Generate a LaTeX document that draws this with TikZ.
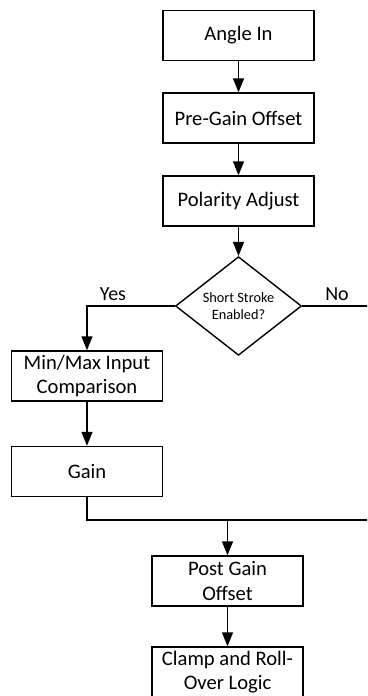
\documentclass[tikz,border=0pt]{standalone}
\usepackage{fontspec}
\setmainfont{Carlito}
\usetikzlibrary{shapes.geometric,arrows.meta}
\begin{document}
\begin{tikzpicture}[x=1pt,y=-1pt,
  box/.style={draw,line width=1.4pt,minimum width=151pt,minimum height=50pt,inner sep=0pt,align=center,font=\fontsize{20.6}{24.5}\selectfont},
  dec/.style={draw,line width=1.4pt,shape=diamond,minimum width=126pt,minimum height=95pt,inner sep=0pt,align=center,font=\fontsize{14.3}{17.2}\selectfont},
  lbl/.style={font=\fontsize{20}{24}\selectfont,inner sep=0pt},
  conn/.style={line width=1.4pt},
  arr/.style={line width=1.4pt,-{Triangle[length=14pt,width=11pt]}}]
\useasboundingbox (0,0) rectangle (367,696);
\clip (0,0) rectangle (367,696);
\node[box] (ai) at (238.5,35.5) {Angle In};
\node[box] (pg) at (238.5,118) {Pre-Gain Offset};
\node[box] (pa) at (238.5,201) {Polarity Adjust};
\node[dec] (dc) at (238.5,306) {Short Stroke\\Enabled?};
\node[box] (mm) at (87,376) {Min/Max Input\\Comparison};
\node[box] (gn) at (87,471.5) {Gain};
\node[box] (po) at (227.5,581) {Post Gain\\Offset};
\node[box] (cl) at (227.5,672) {Clamp and Roll-\\Over Logic};
\node[lbl] (yes) at (113,294) {Yes};
\node[lbl] (no) at (337,294) {No};
\coordinate (noend) at (372,306);
\coordinate (jn) at (227.5,520);
\coordinate (rend) at (372,520);
\draw[arr] (ai) -- (pg);
\draw[arr] (pg) -- (pa);
\draw[arr] (pa) -- (dc);
\draw[arr] (dc.west) -| (mm.north);
\draw[conn] (dc.east) -- (noend);
\draw[arr] (mm) -- (gn);
\draw[conn] (gn.south) |- (rend);
\draw[arr] (jn) -- (po.north);
\draw[arr] (po) -- (cl);
\end{tikzpicture}
\end{document}
